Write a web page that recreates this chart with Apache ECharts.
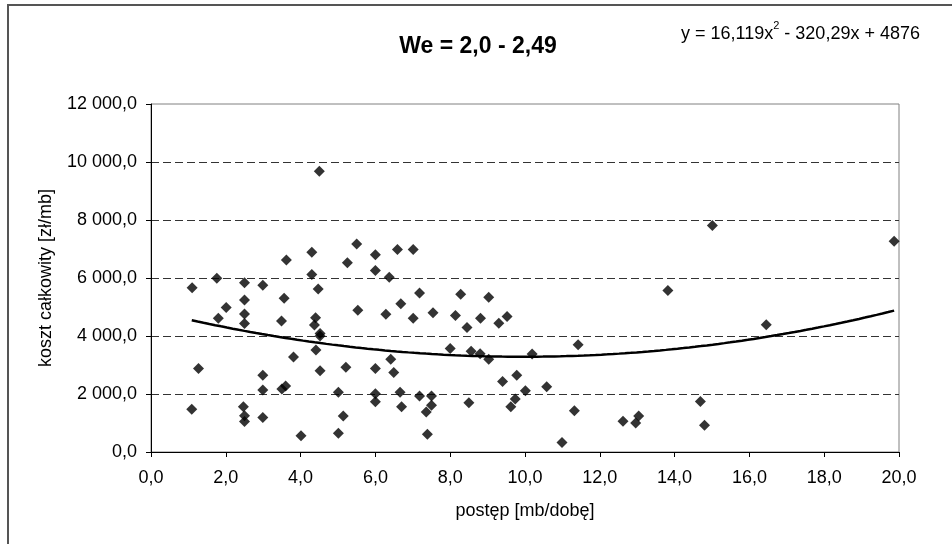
<!DOCTYPE html>
<html>
<head>
<meta charset="utf-8">
<script src="https://cdn.jsdelivr.net/npm/echarts@6/dist/echarts.min.js"></script>
<style>
html,body{margin:0;padding:0;background:#fff;}
#chart{width:952px;height:544px;}
</style>
</head>
<body>
<div id="chart"></div>
<script>
// postęp [mb/dobę]
var xValues = [
  1.10, 1.27, 1.09, 1.76, 1.80, 2.01, 2.50, 2.50, 2.50, 2.50, 2.47, 2.50, 2.50,
  2.99, 2.99, 2.99, 2.99, 3.62, 3.56, 3.49, 3.50, 3.60, 3.81, 4.01, 4.50, 4.30,
  4.30, 4.47, 4.40, 4.37, 4.52, 4.52, 4.41, 4.52,
  5.50, 5.25, 5.53, 5.21, 5.01, 5.14, 5.01, 6.00, 6.00, 6.37, 6.59, 7.01, 6.28,
  6.68, 7.01, 7.18, 6.00, 6.41, 6.49, 6.00, 6.00, 6.66, 6.70, 7.18, 7.50, 7.50,
  7.36, 7.39, 7.54, 8.00, 8.28, 8.14, 8.45, 8.56, 8.81, 8.80, 9.03, 9.03, 8.50,
  9.30, 9.52, 9.40, 9.78, 9.74, 9.62,
  10.01, 10.19, 10.58, 10.99, 11.32, 11.42, 12.62, 12.96, 13.04, 13.82, 14.69,
  14.80, 15.01, 16.45, 19.87
];
// koszt całkowity [zł/mb]
var yValues = [
  5665, 2880, 1470, 5990, 4610, 4980, 5840, 5240, 4760, 4430, 1560, 1250, 1055,
  5750, 2650, 2140, 1190, 6620, 5300, 4520, 2170, 2280, 3280, 560, 9680, 6890,
  6120, 5620, 4630, 4380, 4090, 4000, 3520, 2800,
  7170, 6530, 4890, 2920, 2060, 1240, 650, 6800, 6260, 6030, 6980, 6980, 4750,
  5110, 4610, 5480, 2880, 3200, 2740, 2010, 1730, 2060, 1560, 1930, 1930, 1610,
  1380, 610, 4800, 3570, 5440, 4710, 4290, 3470, 4610, 3390, 5340, 3200, 1700,
  4440, 4670, 2430, 2650, 1830, 1560,
  2110, 3380, 2250, 330, 1420, 3700, 1060, 1000, 1240, 5570, 1740,
  920, 7810, 4390, 7270
];
// trend line coefficients shown on the chart: y = a*x^2 + b*x + c
var trendCoefficients = [16.119, -320.29, 4876];
var titleText = 'We = 2,0 - 2,49';
var xAxisName = 'postęp [mb/dobę]';
var yAxisName = 'koszt całkowity [zł/mb]';

var points = xValues.map(function (x, i) { return [x, yValues[i]]; });
var xMin = Math.min.apply(null, xValues), xMax = Math.max.apply(null, xValues);
var trend = [];
var steps = 120;
for (var i = 0; i <= steps; i++) {
  var x = xMin + (xMax - xMin) * i / steps;
  trend.push([x, trendCoefficients[0] * x * x + trendCoefficients[1] * x + trendCoefficients[2]]);
}

function fmtX(v) { return v.toFixed(1).replace('.', ','); }
function fmtY(v) {
  var s = Math.round(v).toString().replace(/\B(?=(\d{3})+(?!\d))/g, ' ');
  return s + ',0';
}

var FONT = "'Liberation Sans', Arial, sans-serif";
var chart = echarts.init(document.getElementById('chart'), null, {renderer: 'canvas'});
chart.setOption({
  backgroundColor: '#fff',
  animation: false,
  textStyle: {fontFamily: FONT},
  title: {
    text: titleText,
    left: 473, top: 30, textAlign: 'center',
    textStyle: {fontFamily: FONT, fontSize: 23, fontWeight: 'bold', color: '#000'}
  },
  graphic: [
    {
      type: 'rect', z: -10, silent: true,
      shape: {x: 8, y: 5, width: 1000, height: 600},
      style: {fill: 'transparent', stroke: '#555', lineWidth: 2}
    },
    {
      type: 'text', left: 681, top: 20,
      style: {
        text: '{a|y = 16,119x}{s|2}{a| - 320,29x + 4876}',
        rich: {
          a: {fontFamily: FONT, fontSize: 18, color: '#000', lineHeight: 23, verticalAlign: 'bottom'},
          s: {fontFamily: FONT, fontSize: 11, color: '#000', lineHeight: 23, verticalAlign: 'top'}
        }
      }
    }
  ],
  grid: {left: 151, right: 53, top: 104, bottom: 92, show: true, borderColor: '#808080', borderWidth: 1, containLabel: false},
  xAxis: {
    type: 'value', min: 0, max: 20, interval: 2,
    name: xAxisName, nameLocation: 'middle', nameGap: 50,
    nameTextStyle: {fontFamily: FONT, fontSize: 18, color: '#000'},
    axisLine: {show: true, lineStyle: {color: '#000', width: 1}},
    axisTick: {show: true, inside: false, length: 5, lineStyle: {color: '#000'}},
    axisLabel: {formatter: fmtX, fontFamily: FONT, fontSize: 18, color: '#000', margin: 17},
    splitLine: {show: false}
  },
  yAxis: {
    type: 'value', min: 0, max: 12000, interval: 2000,
    name: yAxisName, nameLocation: 'middle', nameGap: 96, nameRotate: 90,
    nameTextStyle: {fontFamily: FONT, fontSize: 18, color: '#000'},
    axisLine: {show: true, lineStyle: {color: '#000', width: 1}},
    axisTick: {show: true, inside: false, length: 5, lineStyle: {color: '#000'}},
    axisLabel: {formatter: fmtY, fontFamily: FONT, fontSize: 18, color: '#000', margin: 14},
    splitLine: {show: true, showMaxLine: false, lineStyle: {color: '#333', width: 1, type: [8, 4]}}
  },
  series: [
    {
      type: 'scatter', data: points, symbol: 'diamond', symbolSize: 11,
      itemStyle: {color: '#000'}, z: 3
    },
    {
      type: 'line', data: trend, showSymbol: false, symbol: 'none', smooth: false,
      lineStyle: {color: '#000', width: 2.5}, z: 4
    }
  ]
});
</script>
</body>
</html>
